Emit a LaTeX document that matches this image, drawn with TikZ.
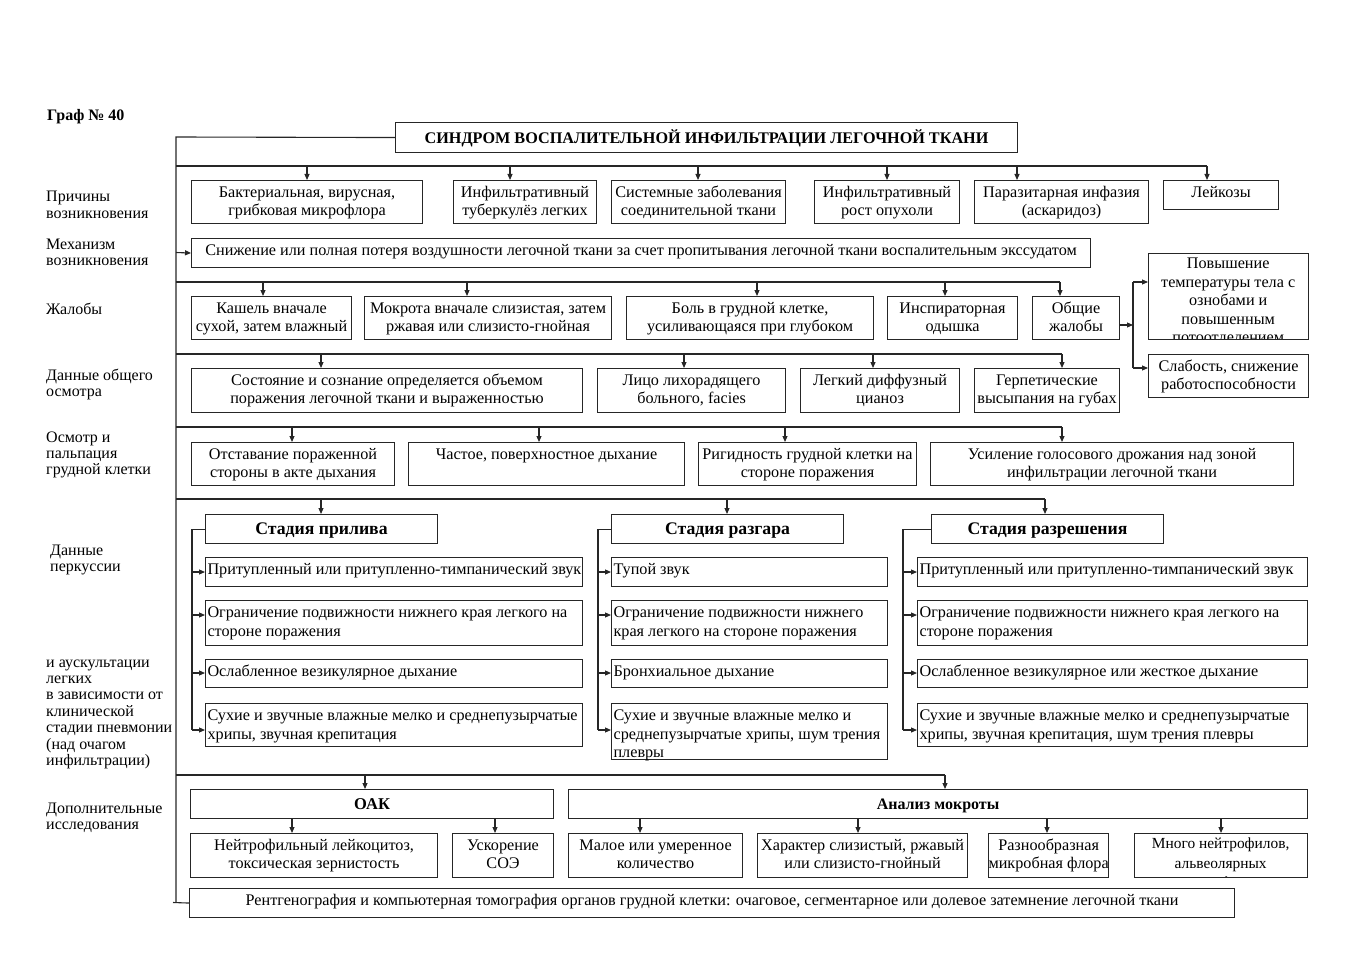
\documentclass[tikz,border=0pt]{standalone}
\usepackage{fontspec}
\setmainfont{Liberation Serif}
\usetikzlibrary{arrows.meta}
\tikzset{
  bx/.style={draw=black!85, line width=1.1pt, inner sep=0pt, anchor=north west},
  bxn/.style={inner sep=0pt, anchor=north west},
  ln/.style={draw=black!85, line width=1.1pt},
  arr/.style={ln, -{Triangle[length=6pt,width=5pt]}},
  lbl/.style={inner sep=0pt, anchor=base west},
}
\newcommand\bxfont{\fontsize{16.2}{18.5}\selectfont}
\newcommand\bxC[6]{\node[bx] (#1) at (#2pt,-#3pt) {\parbox[t][\dimexpr#5pt-#3pt\relax][t]{\dimexpr#4pt-#2pt\relax}{\bxfont\centering\rule{0pt}{16.5pt}\begin{tabular}[t]{@{}c@{}}#6\end{tabular}\par}};}
\newcommand\bxL[6]{\node[bx] (#1) at (#2pt,-#3pt) {\parbox[t][\dimexpr#5pt-#3pt\relax][t]{\dimexpr#4pt-#2pt\relax}{\bxfont\raggedright\hspace*{2pt}\rule{0pt}{17pt}\begin{tabular}[t]{@{}l@{}}#6\end{tabular}\par}};}
\newcommand\bxB[7]{\node[bx] (#1) at (#2pt,-#3pt) {\parbox[t][\dimexpr#5pt-#3pt\relax][t]{\dimexpr#4pt-#2pt\relax}{\centering\fontsize{#6}{20}\selectfont\bfseries\rule{0pt}{\dimexpr#5pt-#3pt-9pt\relax}#7\par}};}
\newcommand\bxE[5]{\node[bx] (#1) at (#2pt,-#3pt) {\parbox[t][\dimexpr#5pt-#3pt\relax][t]{\dimexpr#4pt-#2pt\relax}{\mbox{}}};}
\newcommand\dn[4]{\coordinate (#1) at (#2pt,-#3pt); \draw[arr] (#1) -- (#1 |- #4.north);}
\newcommand\lb[4]{\node[lbl] (#1) at (#2pt,-#3pt) {\parbox[t]{140pt}{\fontsize{16}{16.4}\selectfont\raggedright #4}};}

\begin{document}
\begin{tikzpicture}
\useasboundingbox (0,0) rectangle (1357pt,-960pt);

% heading
\node[lbl] (graf) at (47pt,-121pt) {\fontsize{16}{18}\selectfont\bfseries Граф № 40};
\node[bx] (title) at (395pt,-122pt) {\parbox[t][30pt][t]{622pt}{\centering\fontsize{16.2}{20}\selectfont\bfseries\rule{0pt}{21pt}СИНДРОМ ВОСПАЛИТЕЛЬНОЙ ИНФИЛЬТРАЦИИ ЛЕГОЧНОЙ ТКАНИ\par}};

% left labels
\lb{l1}{46}{202}{Причины\\возникновения}
\lb{l2}{46}{249}{Механизм\\возникновения}
\lb{l3}{46}{314}{Жалобы}
\lb{l4}{46}{380}{Данные общего\\осмотра}
\lb{l5}{46}{442}{Осмотр и\\пальпация\\грудной клетки}
\lb{l6}{50}{555}{Данные\\перкуссии}
\lb{l7}{46}{667}{и аускультации\\легких\\в зависимости от\\клинической\\стадии пневмонии\\(над очагом\\инфильтрации)}
\lb{l8}{46}{813}{Дополнительные\\исследования}

% spine
\coordinate (spTop) at (176pt,-137pt);
\coordinate (spBot) at (176pt,-902.5pt);
\draw[ln] (title.west) -- (spTop) -- (spBot);

% causes
\bxC{c1}{191}{180}{422}{223}{Бактериальная, вирусная,\\грибковая микрофлора}
\bxC{c2}{453}{180}{596}{223}{Инфильтративный\\туберкулёз легких}
\bxC{c3}{611}{180}{785}{223}{Системные заболевания\\соединительной ткани}
\bxC{c4}{814}{180}{959}{223}{Инфильтративный\\рост опухоли}
\bxC{c5}{974}{180}{1148}{223}{Паразитарная инфазия\\(аскаридоз)}
\bxC{c6}{1163}{180}{1278}{209}{Лейкозы}
\coordinate (b1) at (176pt,-166pt);
\dn{a11}{307}{166}{c1}
\dn{a12}{510}{166}{c2}
\dn{a13}{698}{166}{c3}
\dn{a14}{887}{166}{c4}
\dn{a15}{1017}{166}{c5}
\dn{a16}{1207}{166}{c6}
\draw[ln] (b1) -- (a16);

% mechanism
\bxC{m}{191}{238}{1090}{267}{Снижение или полная потеря воздушности легочной ткани за счет пропитывания легочной ткани воспалительным экссудатом}
\coordinate (bm) at (176pt,-252.5pt);
\draw[arr] (bm) -- (m.west);

% complaints
\bxC{j1}{191}{296}{351}{339}{Кашель вначале\\сухой, затем влажный}
\bxC{j2}{364}{296}{611}{339}{Мокрота вначале слизистая, затем\\ржавая или слизисто-гнойная}
\bxC{j3}{626}{296}{873}{339}{Боль в грудной клетке,\\усиливающаяся при глубоком}
\bxC{j4}{887}{296}{1017}{339}{Инспираторная\\одышка}
\bxC{j5}{1032}{296}{1119}{339}{Общие\\жалобы}
\begin{scope}
\clip (1148pt,-253pt) rectangle (1308pt,-339pt);
\node[bxn] (j6t) at (1148pt,-253pt) {\parbox[t][86pt][t]{160pt}{\bxfont\centering\rule{0pt}{15.5pt}\begin{tabular}[t]{@{}c@{}}Повышение\\температуры тела с\\ознобами и\\повышенным\\потоотделением\end{tabular}\par}};
\end{scope}
\bxE{j6}{1148}{253}{1308}{339}
\bxC{j7}{1148}{354}{1308}{397}{Слабость, снижение\\работоспособности}
\coordinate (b2) at (176pt,-282pt);
\dn{a21}{263}{282}{j1}
\dn{a22}{467}{282}{j2}
\dn{a23}{757}{282}{j3}
\dn{a24}{945}{282}{j4}
\dn{a25}{1060}{282}{j5}
\draw[ln] (b2) -- (a25);
\coordinate (o1) at (1119pt,-325pt);
\coordinate (o2) at (1133pt,-325pt);
\coordinate (o3) at (1133pt,-282pt);
\coordinate (o4) at (1133pt,-368pt);
\draw[arr] (o1) -- (o2);
\draw[ln] (o3) -- (o4);
\draw[arr] (o3) -- (o3 -| j6.west);
\draw[arr] (o4) -- (o4 -| j7.west);

% general exam
\bxC{e1}{191}{368}{582}{412}{Состояние и сознание определяется объемом\\поражения легочной ткани и выраженностью}
\bxC{e2}{597}{368}{785}{412}{Лицо лихорадящего\\больного, facies}
\bxC{e3}{800}{368}{959}{412}{Легкий диффузный\\цианоз}
\bxC{e4}{974}{368}{1119}{412}{Герпетические\\высыпания на губах}
\coordinate (b3) at (176pt,-354pt);
\dn{a31}{321}{354}{e1}
\dn{a32}{684}{354}{e2}
\dn{a33}{873}{354}{e3}
\dn{a34}{1062}{354}{e4}
\draw[ln] (b3) -- (a34);

% palpation
\bxC{p1}{191}{442}{394}{485}{Отставание пораженной\\стороны в акте дыхания}
\bxC{p2}{408}{442}{684}{485}{Частое, поверхностное дыхание}
\bxC{p3}{698}{442}{916}{485}{Ригидность грудной клетки на\\стороне поражения}
\bxC{p4}{930}{442}{1293}{485}{Усиление голосового дрожания над зоной\\инфильтрации легочной ткани}
\coordinate (b4) at (176pt,-427pt);
\dn{a41}{292}{427}{p1}
\dn{a42}{539}{427}{p2}
\dn{a43}{785}{427}{p3}
\dn{a44}{1062}{427}{p4}
\draw[ln] (b4) -- (a44);

% stages
\bxB{h1}{205}{514}{437}{543}{17.7}{Стадия прилива}
\bxB{h2}{611}{514}{843}{543}{17.7}{Стадия разгара}
\bxB{h3}{931}{514}{1163}{543}{17.7}{Стадия разрешения}
\coordinate (b5) at (176pt,-499pt);
\dn{a51}{321}{499}{h1}
\dn{a52}{727}{499}{h2}
\dn{a53}{1045}{499}{h3}
\draw[ln] (b5) -- (a53);

\bxL{s11}{205}{557}{582}{586}{Притупленный или притупленно-тимпанический звук}
\bxL{s12}{205}{600}{582}{645}{Ограничение подвижности нижнего края легкого на\\стороне поражения}
\bxL{s13}{205}{659}{582}{687}{Ослабленное везикулярное дыхание}
\bxL{s14}{205}{703}{582}{746}{Сухие и звучные влажные мелко и среднепузырчатые\\хрипы, звучная крепитация}
\bxL{s21}{611}{557}{887}{586}{Тупой звук}
\bxL{s22}{611}{600}{887}{645}{Ограничение подвижности нижнего\\края легкого на стороне поражения}
\bxL{s23}{611}{659}{887}{687}{Бронхиальное дыхание}
\bxL{s24}{611}{703}{887}{759}{Сухие и звучные влажные мелко и\\среднепузырчатые хрипы, шум трения\\плевры}
\bxL{s31}{917}{557}{1307}{586}{Притупленный или притупленно-тимпанический звук}
\bxL{s32}{917}{600}{1307}{645}{Ограничение подвижности нижнего края легкого на\\стороне поражения}
\bxL{s33}{917}{659}{1307}{687}{Ослабленное везикулярное или жесткое дыхание}
\bxL{s34}{917}{703}{1307}{746}{Сухие и звучные влажные мелко и среднепузырчатые\\хрипы, звучная крепитация, шум трения плевры}

\coordinate (kA) at (192pt,-730pt);
\coordinate (kB) at (598pt,-730pt);
\coordinate (kC) at (903pt,-730pt);
\draw[ln] (h1.west) -| (kA);
\draw[ln] (h2.west) -| (kB);
\draw[ln] (h3.west) -| (kC);
\foreach \k/\x/\c in {A/192/s1,B/598/s2,C/903/s3}{
  \draw[arr] (\x pt,-572pt) -- (\x pt,-572pt -| \c1.west);
  \draw[arr] (\x pt,-615pt) -- (\x pt,-615pt -| \c2.west);
  \draw[arr] (\x pt,-673pt) -- (\x pt,-673pt -| \c3.west);
  \draw[arr] (k\k) -- (k\k -| \c4.west);
}

% additional
\bxB{oak}{190}{789}{553}{818}{16.5}{ОАК}
\bxB{an}{568}{789}{1307}{818}{16}{Анализ мокроты}
\coordinate (b6) at (176pt,-775pt);
\dn{a61}{365}{775}{oak}
\dn{a62}{945}{775}{an}
\draw[ln] (b6) -- (a62);

\bxC{d1}{190}{833}{437}{877}{Нейтрофильный лейкоцитоз,\\токсическая зернистость}
\bxC{d2}{452}{833}{553}{877}{Ускорение\\СОЭ}
\bxC{d3}{568}{833}{742}{877}{Малое или умеренное\\количество}
\bxC{d4}{757}{833}{967}{877}{Характер слизистый, ржавый\\или слизисто-гнойный}
\bxC{d5}{988}{833}{1108}{877}{Разнообразная\\микробная флора}
\begin{scope}
\clip (1134pt,-833pt) rectangle (1307pt,-877pt);
\node[bxn] (d6t) at (1134pt,-833pt) {\parbox[t][44pt][t]{173pt}{\centering\fontsize{15.4}{19.3}\selectfont\rule{0pt}{15.5pt}\begin{tabular}[t]{@{}c@{}}Много нейтрофилов,\\альвеолярных\\макрофагов\end{tabular}\par}};
\end{scope}
\bxE{d6}{1134}{833}{1307}{877}
\coordinate (g1) at (292pt,-818pt);
\coordinate (g2) at (495pt,-818pt);
\coordinate (g3) at (640pt,-818pt);
\coordinate (g4) at (858pt,-818pt);
\coordinate (g5) at (1047pt,-818pt);
\coordinate (g6) at (1221pt,-818pt);
\draw[arr] (g1) -- (g1 |- d1.north);
\draw[arr] (g2) -- (g2 |- d2.north);
\draw[arr] (g3) -- (g3 |- d3.north);
\draw[arr] (g4) -- (g4 |- d4.north);
\draw[arr] (g5) -- (g5 |- d5.north);
\draw[arr] (g6) -- (g6 |- d6.north);

\bxC{r}{189}{888}{1234}{917}{Рентгенография и компьютерная томография органов грудной клетки: очаговое, сегментарное или долевое затемнение легочной ткани}
\coordinate (rt) at (173pt,-902.5pt);
\draw[ln] (rt) -- (r.west);
\end{tikzpicture}
\end{document}
